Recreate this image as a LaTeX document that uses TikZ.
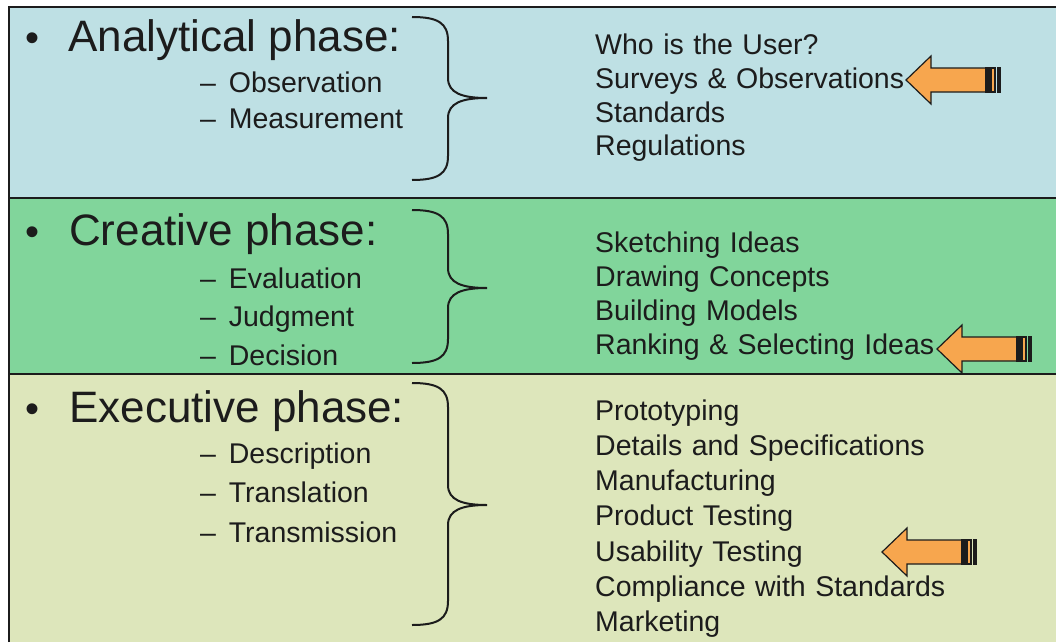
\documentclass[tikz,border=0pt]{standalone}
\usepackage{fontspec}
\setmainfont{Liberation Sans}
\usepackage{tikz}
\usetikzlibrary{calc}

\definecolor{analytic}{RGB}{190,224,228}
\definecolor{creative}{RGB}{129,213,155}
\definecolor{executive}{RGB}{221,230,187}
\definecolor{arrowfill}{RGB}{247,166,78}
\definecolor{ink}{RGB}{28,28,28}

\newcommand{\phasebrace}[3]{%
        \draw[brace line] (412,#1) .. controls (438,#1) and (448,#1+6) .. (448,#1+24)
        -- (448,#2-20) .. controls (448,#2-5) and (462,#2) .. (487,#2)
        .. controls (462,#2) and (448,#2+5) .. (448,#2+20)
        -- (448,#3-24) .. controls (448,#3-6) and (438,#3) .. (412,#3);}

\newcommand{\stripedarrow}[2]{%
        \begin{scope}[shift={(#1,#2)}]
        \filldraw[arrow line, fill=arrowfill] (0,0) -- (25,-24) -- (25,-12) -- (80,-12) -- (80,12) -- (25,12) -- (25,24) -- cycle;
        \filldraw[arrow line, fill=ink] (80,-12) rectangle (85,12);
        \filldraw[arrow line, fill=arrowfill] (85,-12) rectangle (89,12);
        \fill[ink] (91,-13) rectangle (95,13);
        \end{scope}}

\begin{document}
\begin{tikzpicture}[x=1pt,y=-1pt,
        panel line/.style={draw=ink,line width=1.5pt},
        brace line/.style={draw=ink,line width=2pt},
        arrow line/.style={draw=ink,line width=1.2pt,line join=miter},
        head/.style={inner sep=0,anchor=base west,text=ink,font=\fontsize{44}{50}\selectfont},
        dot/.style={inner sep=0,anchor=base,text=ink,font=\fontsize{40}{40}\selectfont},
        item/.style={inner sep=0,text=ink,text width=380pt,align=left,text height=21pt,text depth=6pt,font=\fontsize{28.5}{32}\selectfont}]
        \useasboundingbox (0,0) rectangle (1056,642);
        \fill[white] (0,0) rectangle (1056,642);
        \fill[analytic] (9,7) rectangle (1056,198);
        \fill[creative] (9,198) rectangle (1056,374);
        \fill[executive] (9,374) rectangle (1056,642);
        \draw[panel line] (9,642) -- (9,7) -- (1056,7);
        \draw[panel line] (9,198) -- (1056,198);
        \draw[panel line] (9,374) -- (1056,374);

        \node[dot] (b1) at (33,52) {\textbullet};
        \node[head] (A) at (68,52) {Analytical phase:};
        \node[dot] (b2) at (33,245) {\textbullet};
        \node[head] (C) at (69,245) {Creative phase:};
        \node[dot] (b3) at (33,422) {\textbullet};
        \node[head] (E) at (69,422) {Executive phase:};

        \begin{scope}[node distance=36pt]
        \node[item, anchor=base west] (A1) at (200,92) {–\hspace{0.45em}Observation};
        \node[item] (A2) [below of=A1] {–\hspace{0.45em}Measurement};
        \end{scope}
        \begin{scope}[node distance=38.5pt]
        \node[item, anchor=base west] (C1) at (200,288) {–\hspace{0.45em}Evaluation};
        \node[item] (C2) [below of=C1] {–\hspace{0.45em}Judgment};
        \node[item] (C3) [below of=C2] {–\hspace{0.45em}Decision};
        \end{scope}
        \begin{scope}[node distance=39.5pt]
        \node[item, anchor=base west] (E1) at (200,463) {–\hspace{0.45em}Description};
        \node[item] (E2) [below of=E1] {–\hspace{0.45em}Translation};
        \node[item] (E3) [below of=E2] {–\hspace{0.45em}Transmission};
        \end{scope}

        \phasebrace{17}{98}{180}
        \phasebrace{210}{288}{363}
        \phasebrace{383}{505}{625}

        \begin{scope}[node distance=33.5pt]
        \node[item, anchor=base west] (RA1) at (595,55) {Who is the User?};
        \node[item] (RA2) [below of=RA1] {Surveys \& Observations};
        \node[item] (RA3) [below of=RA2] {Standards};
        \node[item] (RA4) [below of=RA3] {Regulations};
        \end{scope}
        \begin{scope}[node distance=34pt]
        \node[item, anchor=base west] (RC1) at (595,252) {Sketching Ideas};
        \node[item] (RC2) [below of=RC1] {Drawing Concepts};
        \node[item] (RC3) [below of=RC2] {Building Models};
        \node[item] (RC4) [below of=RC3] {Ranking \& Selecting Ideas};
        \end{scope}
        \begin{scope}[node distance=35.3pt]
        \node[item, anchor=base west] (RE1) at (595,420) {Prototyping};
        \node[item] (RE2) [below of=RE1] {Details and Specifications};
        \node[item] (RE3) [below of=RE2] {Manufacturing};
        \node[item] (RE4) [below of=RE3] {Product Testing};
        \node[item] (RE5) [below of=RE4] {Usability Testing};
        \node[item] (RE6) [below of=RE5] {Compliance with Standards};
        \node[item] (RE7) [below of=RE6] {Marketing};
        \end{scope}

        \stripedarrow{906}{80}
        \stripedarrow{937}{349}
        \stripedarrow{882}{552}
\end{tikzpicture}
\end{document}
